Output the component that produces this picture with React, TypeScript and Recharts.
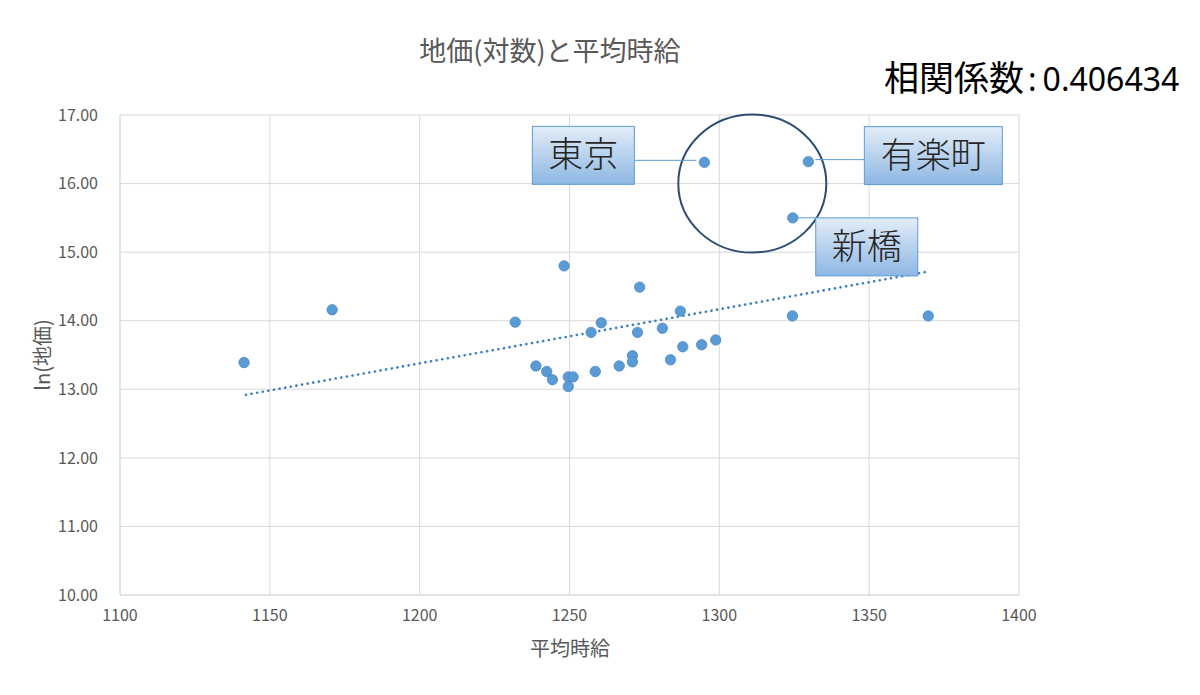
import React from 'react';
import {
  ScatterChart,
  Scatter,
  XAxis,
  YAxis,
  CartesianGrid,
  ReferenceDot,
} from 'recharts';

// ---- data ----
const wageValues = [
  1141.4, 1170.8, 1231.9, 1238.8, 1242.4, 1244.3, 1248.2, 1249.6, 1251.2, 1249.6,
  1257.2, 1258.6, 1260.6, 1266.6, 1271.0, 1271.0, 1272.7, 1273.4, 1281.0, 1283.7,
  1287.0, 1287.8, 1294.1, 1298.8, 1324.4, 1369.7, 1295.0, 1329.7, 1324.5,
];
const lnPriceValues = [
  13.39, 14.16, 13.98, 13.34, 13.26, 13.14, 14.80, 13.18, 13.18, 13.04,
  13.83, 13.26, 13.97, 13.34, 13.49, 13.40, 13.83, 14.49, 13.89, 13.43,
  14.14, 13.62, 13.65, 13.72, 14.07, 14.07, 16.31, 16.32, 15.50,
];
const trendX = [1142, 1370];
const trendY = [12.92, 14.72];

const xTicks = [1100, 1150, 1200, 1250, 1300, 1350, 1400];
const yTicks = [10, 11, 12, 13, 14, 15, 16, 17];

const calloutNames = ['東京', '有楽町', '新橋'];
const calloutX = [1295.0, 1329.7, 1324.5];
const calloutY = [16.31, 16.32, 15.5];
const circleCenter = { x: 1311, y: 16.0 };

const titleText = '地価(対数)と平均時給';
const corrLabel = '相関係数';
const corrValue = '0.406434';
const xLabel = '平均時給';
const yLabel = 'ln(地価)';

const points = wageValues.map((x, i) => ({ x, y: lnPriceValues[i] }));
const trend = trendX.map((x, i) => ({ x, y: trendY[i] }));

const FONT = '"Noto Sans CJK JP", "Noto Sans", sans-serif';
const GRAY = '#595959';
const BLUE = '#5B9BD5';

// callout layout (pixel offsets from point): box left/top, width, leader line
const calloutLayout = [
  { dx: -172, dy: -36, w: 102, h: 58, l1: -71, l2: -8, ly: -2 },
  { dx: 56, dy: -35, w: 138, h: 58, l1: 7, l2: 56, ly: -2 },
  { dx: 23, dy: 0, w: 102, h: 58, l1: 5, l2: 23, ly: 0 },
];

function makeCallout(i: number) {
  return (props: any) => {
    const { cx, cy } = props;
    const L = calloutLayout[i];
    const bx = cx + L.dx;
    const by = cy + L.dy;
    return (
      <g>
        <line x1={cx + L.l1} y1={cy + L.ly} x2={cx + L.l2} y2={cy + L.ly} stroke={BLUE} strokeWidth={1} />
        <rect x={bx} y={by} width={L.w} height={L.h} fill="url(#calloutGrad)" stroke={BLUE} strokeWidth={1} />
        <text
          x={bx + L.w / 2}
          y={by + L.h / 2 + 12}
          textAnchor="middle"
          fontSize={35}
          fontFamily={FONT}
          fontWeight={300}
          fill="#262626"
        >
          {calloutNames[i]}
        </text>
      </g>
    );
  };
}

const circleShape = (props: any) => {
  const { cx, cy } = props;
  return <ellipse cx={cx} cy={cy} rx={74} ry={69} fill="none" stroke="#2B4D72" strokeWidth={2} />;
};

const dotShape = (props: any) => {
  const { cx, cy } = props;
  return <circle cx={cx} cy={cy} r={5.2} fill={BLUE} stroke="#4A89C8" strokeWidth={0.8} />;
};

export default function App() {
  return (
    <div
      style={{
        position: 'absolute',
        left: 0,
        top: 0,
        width: 1200,
        height: 695,
        background: '#fff',
        fontFamily: FONT,
      }}
    >
      <div
        style={{
          position: 'absolute',
          left: 300,
          width: 500,
          top: 32,
          textAlign: 'center',
          fontSize: 27,
          color: GRAY,
          lineHeight: '36px',
          whiteSpace: 'nowrap',
        }}
      >
        {titleText}
      </div>
      <div
        style={{
          position: 'absolute',
          left: 884,
          top: 53,
          color: '#000',
          lineHeight: '46px',
          whiteSpace: 'nowrap',
        }}
      >
        <span style={{ fontSize: 35 }}>{corrLabel}</span>
        <span style={{ fontSize: 32, fontFamily: '"Noto Sans", sans-serif', margin: '0 6px 0 4px' }}>:</span>
        <span style={{ fontSize: 32, fontFamily: '"Noto Sans", sans-serif' }}>{corrValue}</span>
      </div>
      <div
        style={{
          position: 'absolute',
          left: 470,
          width: 200,
          top: 634,
          textAlign: 'center',
          fontSize: 20,
          color: GRAY,
          lineHeight: '28px',
        }}
      >
        {xLabel}
      </div>
      <div
        style={{
          position: 'absolute',
          left: 42 - 60,
          top: 355 - 14,
          width: 120,
          textAlign: 'center',
          fontSize: 20,
          color: GRAY,
          lineHeight: '28px',
          transform: 'rotate(-90deg)',
        }}
      >
        {yLabel}
      </div>
      <div style={{ position: 'absolute', left: 0, top: 0 }}>
        <ScatterChart
          width={1200}
          height={695}
          margin={{ top: 115, right: 181, bottom: 70, left: 60 }}
        >
          <defs>
            <linearGradient id="calloutGrad" x1="0" y1="0" x2="0" y2="1">
              <stop offset="0%" stopColor="#E3EDF8" />
              <stop offset="100%" stopColor="#8DB7E3" />
            </linearGradient>
          </defs>
          <CartesianGrid stroke="#D9D9D9" strokeWidth={1} />
          <XAxis
            type="number"
            dataKey="x"
            domain={[1100, 1400]}
            ticks={xTicks}
            allowDataOverflow
            height={30}
            tickLine={false}
            tickSize={0}
            tickMargin={15}
            axisLine={{ stroke: '#D9D9D9' }}
            tick={{ fill: GRAY, fontSize: 16, fontFamily: FONT }}
          />
          <YAxis
            type="number"
            dataKey="y"
            domain={[10, 17]}
            ticks={yTicks}
            allowDataOverflow
            width={60}
            tickLine={false}
            tickSize={0}
            tickMargin={22}
            axisLine={{ stroke: '#D9D9D9' }}
            tickFormatter={(v: number) => v.toFixed(2)}
            tick={{ fill: GRAY, fontSize: 16, fontFamily: FONT }}
          />
          <Scatter
            data={trend}
            line={{ stroke: '#3A7DC0', strokeWidth: 2.6, strokeDasharray: '0.1 5.6', strokeLinecap: 'round' }}
            shape={() => null}
            isAnimationActive={false}
          />
          <Scatter data={points} shape={dotShape} isAnimationActive={false} />
          <ReferenceDot x={circleCenter.x} y={circleCenter.y} shape={circleShape} />
          {calloutNames.map((n, i) => (
            <ReferenceDot key={n} x={calloutX[i]} y={calloutY[i]} shape={makeCallout(i)} />
          ))}
        </ScatterChart>
      </div>
    </div>
  );
}
